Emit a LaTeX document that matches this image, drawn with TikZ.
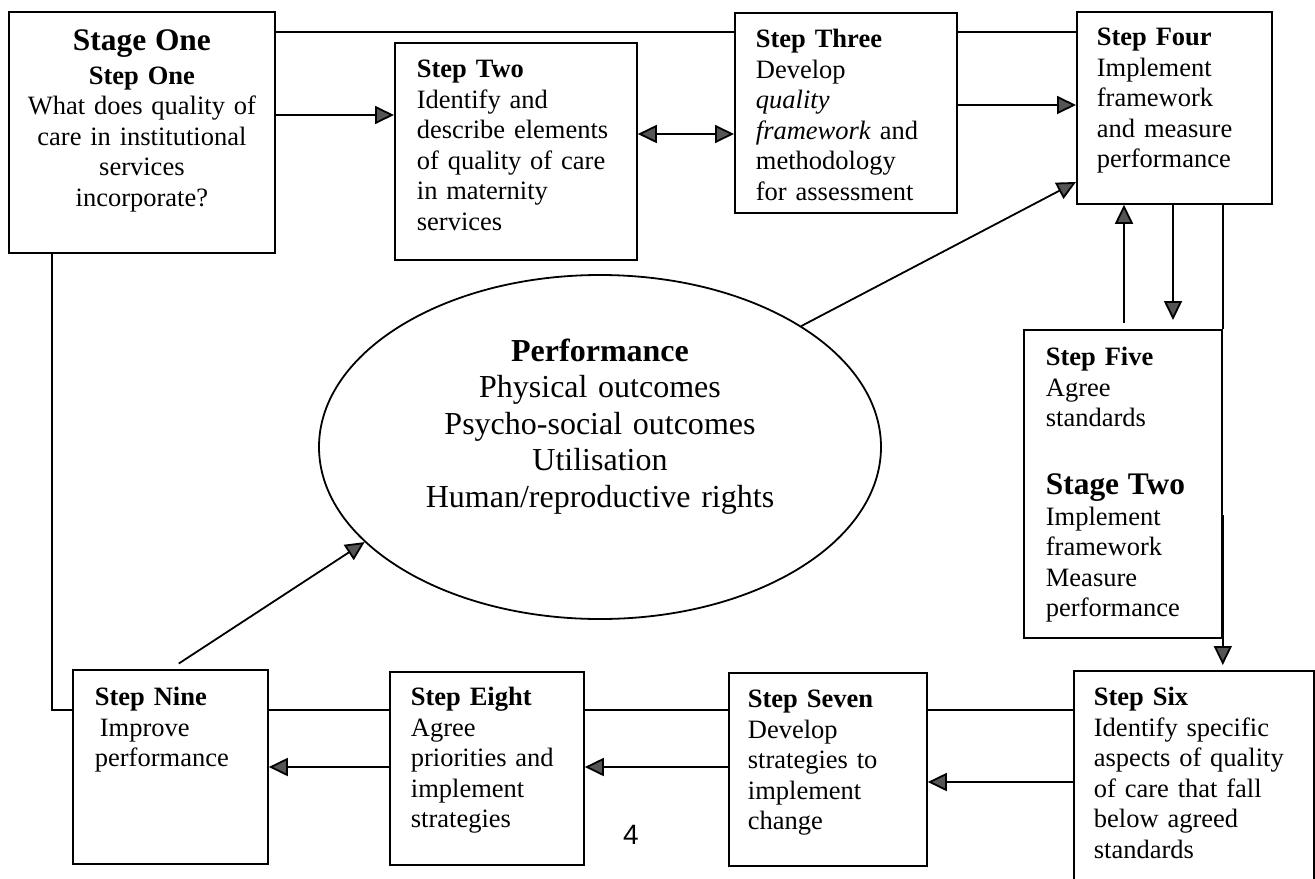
\documentclass[tikz,border=0pt]{standalone}
\usepackage{fontspec}
\setmainfont{Liberation Serif}
\newfontfamily\pagefont{Liberation Sans}
\usetikzlibrary{shapes,arrows.meta}
\definecolor{tipgray}{RGB}{85,85,85}

\begin{document}
\begin{tikzpicture}[x=0.5pt, y=-0.5pt, line width=0.9pt, >={Triangle[length=9.5pt,width=9pt,fill=tipgray]}]
    \tikzstyle{every node}=[font=\fontsize{13.25}{15.25}\selectfont]
    \tikzstyle{stepbox}=[draw, anchor=north west, inner ysep=0pt, align=left]

    \useasboundingbox (0,0) rectangle (1315,878);
    \clip (0,0) rectangle (1315,878);

    % Stage one
    \node[stepbox, align=center, text width=125pt, inner xsep=4pt, text height=19.5pt, text depth=101pt] at (8,11) (St1)
        {\textbf{\fontsize{15.7}{15.25}\selectfont Stage One}\\[1.5pt] \textbf{Step One}\\ What does quality of\\ care in institutional\\ services\\ incorporate?};
    \node[stepbox, text width=99pt, inner xsep=11pt, text height=17.5pt, text depth=91pt] at (394,42) (St2)
        {\textbf{Step Two}\\ Identify and\\ describe elements\\ of quality of care\\ in maternity\\ services};
    \node[stepbox, text width=90pt, inner xsep=10.5pt, text height=17.5pt, text depth=82.5pt] at (734,12) (St3)
        {\textbf{Step Three}\\ Develop\\ \textit{quality}\\ \textit{framework} and\\ methodology\\ for assessment};
    \node[stepbox, text width=77.5pt, inner xsep=10pt, text height=17pt, text depth=79pt] at (1076,11) (St4)
        {\textbf{Step Four}\\ Implement\\ framework\\ and measure\\ performance};

    % Stage two
    \node[stepbox, text width=77pt, inner xsep=11pt, text height=18pt, text depth=136pt] at (1023,329) (St5)
        {\textbf{Step Five}\\ Agree\\ standards\\[18.75pt] \textbf{\fontsize{15.7}{15.25}\selectfont Stage Two}\\ Implement\\ framework\\ Measure\\ performance};
    \node[stepbox, text width=100pt, inner xsep=10pt, text height=17.5pt, text depth=97.5pt] at (1073,670) (St6)
        {\textbf{Step Six}\\ Identify specific\\ aspects of quality\\ of care that fall\\ below agreed\\ standards};
    \node[stepbox, text width=80pt, inner xsep=9.5pt, text height=17.5pt, text depth=79pt] at (728,672) (St7)
        {\textbf{Step Seven}\\ Develop\\ strategies to\\ implement\\ change};
    \node[stepbox, text width=76pt, inner xsep=10.5pt, text height=17pt, text depth=79.5pt] at (389,671) (St8)
        {\textbf{Step Eight}\\ Agree\\ priorities and\\ implement\\ strategies};
    \node[stepbox, text width=75.5pt, inner xsep=11pt, text height=18pt, text depth=79pt] at (72,669) (St9)
        {\textbf{Step Nine}\\ \hspace*{2.5pt}Improve\\ performance};

    % Performance
    \node[ellipse, draw, minimum width=281pt, minimum height=172pt, inner sep=0pt, align=center, text width=180pt,
          text height=10pt, text depth=96pt, font=\fontsize{16}{18.25}\selectfont] at (600,447) (Perf)
        {\textbf{Performance}\\ Physical outcomes\\ Psycho-social outcomes\\ Utilisation\\ Human/reproductive rights};

    \node[font=\pagefont\fontsize{14}{16}\selectfont] at (631,835) (Pg) {4};

    % Top links
    \draw (St1.east |- 0,32) -- (St3.west |- 0,32);
    \draw (St3.east |- 0,32) -- (St4.west |- 0,32);
    \draw[->] (St1.east |- 0,115) -- (St2.west |- 0,115);
    \draw[<->] (St2.east |- 0,134) -- (St3.west |- 0,134);
    \draw[->] (St3.east |- 0,105) -- (St4.west |- 0,105);
    \draw[->] (Perf.31) -- (St4.west |- 0,182);

    % Right column
    \draw[->, shorten <=3pt] (St5.north -| 1124,0) -- (St4.south -| 1124,0);
    \draw[->, shorten >=4.5pt] (St4.south -| 1173,0) -- (St5.north -| 1173,0);
    \draw (St4.south -| St5.east) -- (St5.north east);
    \draw[->, shorten >=2.5pt] (St5.east |- 0,515) -- (St6.north -| St5.east);

    % Bottom links
    \draw (St6.west |- 0,710) -- (St7.east |- 0,710);
    \draw (St7.west |- 0,710) -- (St8.east |- 0,710);
    \draw (St8.west |- 0,710) -- (St9.east |- 0,710);
    \draw (St9.west |- 0,710) -- (52,710) -- (St1.south -| 52,0);
    \draw[->] (St6.west |- 0,782) -- (St7.east |- 0,782);
    \draw[->] (St7.west |- 0,767) -- (St8.east |- 0,767);
    \draw[->] (St8.west |- 0,767) -- (St9.east |- 0,767);
    \draw[->, shorten <=5pt] (St9.north) -- (Perf.202);

\end{tikzpicture}
\end{document}
